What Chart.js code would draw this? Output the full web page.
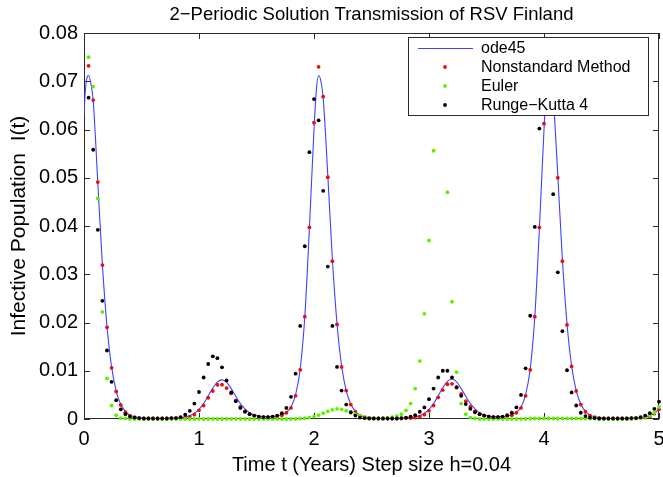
<!DOCTYPE html>
<html>
<head>
<meta charset="utf-8">
<script src="https://cdn.jsdelivr.net/npm/chart.js@4.4.1/dist/chart.umd.min.js"></script>
<style>
  html, body { margin: 0; padding: 0; background: #fff; }
  #wrap { width: 663px; height: 477px; }
</style>
</head>
<body>
<div id="wrap"><canvas id="grafico" width="663" height="477"></canvas></div>
<script>
// passo h = 0.04, de t = 0.04 a t = 5
const passo = 0.04;
const tempos = Array.from({ length: 125 }, (_, i) => +((i + 1) * passo).toFixed(2));

const ticksX = [0, 1, 2, 3, 4, 5];
const ticksY = [0, 0.01, 0.02, 0.03, 0.04, 0.05, 0.06, 0.07, 0.08];

const titulo = '2\u2212Periodic Solution Transmission of RSV Finland';

// ode45 (linha azul), tempos proprios
const odeT = [0, 0.01, 0.02, 0.03, 0.04, 0.06, 0.08, 0.12, 0.16, 0.20, 0.24, 0.28, 0.32, 0.36, 0.40, 0.48, 0.56, 0.64, 0.72, 0.80,
  0.88, 0.92, 0.96, 1.00, 1.04, 1.08, 1.12, 1.16, 1.20, 1.24, 1.28, 1.32, 1.36, 1.40, 1.44, 1.48, 1.56, 1.64, 1.72, 1.76,
  1.80, 1.84, 1.88, 1.92, 1.96, 2.00, 2.02, 2.04, 2.06, 2.08, 2.12, 2.16, 2.20, 2.24, 2.28, 2.32, 2.36, 2.40, 2.48, 2.56,
  2.64, 2.72, 2.80, 2.88, 2.92, 2.96, 3.00, 3.04, 3.08, 3.12, 3.16, 3.20, 3.24, 3.28, 3.32, 3.36, 3.40, 3.44, 3.48, 3.56,
  3.64, 3.72, 3.76, 3.80, 3.84, 3.88, 3.92, 3.96, 4.00, 4.02, 4.04, 4.06, 4.08, 4.12, 4.16, 4.20, 4.24, 4.28, 4.32, 4.36,
  4.40, 4.48, 4.56, 4.64, 4.72, 4.80, 4.88, 4.92, 4.96, 5.00];
const odeI = [0.0630, 0.0675, 0.0700, 0.0710, 0.0712, 0.0695, 0.0660, 0.0490, 0.0320, 0.0192, 0.0108, 0.0058, 0.0030, 0.0016, 0.0008, 0.0003, 0.0001, 0.0001, 0.0001, 0.0002,
  0.0004, 0.0007, 0.0012, 0.0020, 0.0032, 0.0048, 0.0064, 0.0077, 0.0081, 0.0076, 0.0063, 0.0047, 0.0032, 0.0021, 0.0013, 0.0009, 0.0005, 0.0005, 0.0009, 0.0014,
  0.0025, 0.0050, 0.0104, 0.0212, 0.0395, 0.0600, 0.0680, 0.0712, 0.0700, 0.0665, 0.0505, 0.0330, 0.0198, 0.0110, 0.0059, 0.0031, 0.0016, 0.0008, 0.0003, 0.0001,
  0.0001, 0.0001, 0.0002, 0.0004, 0.0007, 0.0012, 0.0020, 0.0032, 0.0048, 0.0065, 0.0078, 0.0083, 0.0077, 0.0063, 0.0047, 0.0032, 0.0021, 0.0013, 0.0009, 0.0005,
  0.0005, 0.0009, 0.0014, 0.0025, 0.0050, 0.0104, 0.0212, 0.0395, 0.0600, 0.0680, 0.0712, 0.0700, 0.0665, 0.0505, 0.0330, 0.0198, 0.0110, 0.0059, 0.0031, 0.0016,
  0.0008, 0.0003, 0.0001, 0.0001, 0.0001, 0.0002, 0.0004, 0.0007, 0.0012, 0.0020];

// Metodo nao padrao (pontos vermelhos)
const naoPadrao = [0.0732, 0.0661, 0.0491, 0.0319, 0.0190, 0.0106, 0.0057, 0.0029, 0.0014,
  0.0007, 0.0004, 0.0002, 0.0001, 0.0001, 0.0001, 0.0001, 0.0001, 0.0001, 0.0001,
  0.0002, 0.0002, 0.0003, 0.0004, 0.0009, 0.0018, 0.0028, 0.0044, 0.0058, 0.0071,
  0.0071, 0.0064, 0.0053, 0.0038, 0.0025, 0.0016, 0.0010, 0.0007, 0.0005, 0.0004,
  0.0004, 0.0004, 0.0005, 0.0008, 0.0013, 0.0023, 0.0048, 0.0102, 0.0212, 0.0397,
  0.0614, 0.0730, 0.0668, 0.0501, 0.0327, 0.0196, 0.0108, 0.0059, 0.0030, 0.0015,
  0.0007, 0.0004, 0.0002, 0.0001, 0.0001, 0.0001, 0.0001, 0.0001, 0.0001, 0.0001,
  0.0002, 0.0002, 0.0003, 0.0005, 0.0009, 0.0017, 0.0028, 0.0045, 0.0060, 0.0072,
  0.0073, 0.0065, 0.0052, 0.0037, 0.0025, 0.0016, 0.0010, 0.0007, 0.0005, 0.0004,
  0.0004, 0.0004, 0.0005, 0.0008, 0.0013, 0.0023, 0.0048, 0.0102, 0.0212, 0.0397,
  0.0612, 0.0730, 0.0668, 0.0500, 0.0327, 0.0195, 0.0109, 0.0058, 0.0030, 0.0015,
  0.0007, 0.0004, 0.0002, 0.0001, 0.0001, 0.0001, 0.0001, 0.0001, 0.0001, 0.0001,
  0.0002, 0.0002, 0.0003, 0.0005, 0.0011, 0.0020];

// Euler (pontos verdes)
const euler = [0.0750, 0.0689, 0.0457, 0.0222, 0.0084, 0.0028, 0.0008, 0.0002, 0.0001,
  0, 0, 0, 0, 0, 0, 0, 0, 0, 0,
  0, 0, 0, 0, 0, 0, 0, 0, 0, 0,
  0, 0, 0, 0, 0, 0, 0, 0, 0, 0,
  0, 0, 0, 0, 0, 0, 0, 0.0001, 0.0002, 0.0003,
  0.0005, 0.0008, 0.0012, 0.0016, 0.0019, 0.0021, 0.0020, 0.0017, 0.0013, 0.0010,
  0.0007, 0.0004, 0.0003, 0.0002, 0.0001, 0.0001, 0.0002, 0.0004, 0.0006, 0.0010,
  0.0018, 0.0032, 0.0063, 0.0120, 0.0218, 0.0370, 0.0556, 0.0690, 0.0665, 0.0470,
  0.0243, 0.0097, 0.0032, 0.0010, 0.0003, 0.0001, 0, 0, 0, 0,
  0, 0, 0, 0, 0, 0, 0, 0.0001, 0.0001, 0.0001,
  0.0001, 0.0001, 0.0001, 0.0001, 0.0001, 0.0001, 0.0001, 0.0001, 0.0001, 0.0001,
  0.0001, 0.0001, 0, 0, 0, 0, 0, 0, 0, 0,
  0.0001, 0.0002, 0.0004, 0.0007, 0.0013, 0.0025];

// Runge-Kutta 4 (pontos pretos)
const rk4 = [0.0666, 0.0558, 0.0392, 0.0245, 0.0142, 0.0077, 0.0039, 0.0020, 0.0010,
  0.0005, 0.0003, 0.0002, 0.0001, 0.0001, 0.0001, 0.0001, 0.0001, 0.0001, 0.0002,
  0.0002, 0.0004, 0.0009, 0.0017, 0.0032, 0.0056, 0.0086, 0.0114, 0.0130, 0.0126,
  0.0107, 0.0080, 0.0055, 0.0037, 0.0023, 0.0015, 0.0010, 0.0007, 0.0005, 0.0004,
  0.0004, 0.0005, 0.0007, 0.0012, 0.0023, 0.0046, 0.0094, 0.0193, 0.0358, 0.0553,
  0.0663, 0.0619, 0.0473, 0.0316, 0.0193, 0.0108, 0.0059, 0.0030, 0.0014, 0.0007,
  0.0003, 0.0002, 0.0001, 0.0001, 0.0001, 0.0001, 0.0001, 0.0001, 0.0001, 0.0002,
  0.0003, 0.0005, 0.0008, 0.0015, 0.0024, 0.0041, 0.0063, 0.0086, 0.0100, 0.0100,
  0.0086, 0.0066, 0.0048, 0.0031, 0.0021, 0.0014, 0.0010, 0.0007, 0.0005, 0.0004,
  0.0004, 0.0005, 0.0008, 0.0013, 0.0024, 0.0050, 0.0105, 0.0214, 0.0398, 0.0602,
  0.0690, 0.0636, 0.0466, 0.0304, 0.0182, 0.0101, 0.0055, 0.0028, 0.0013, 0.0006,
  0.0003, 0.0002, 0.0001, 0.0001, 0.0001, 0.0001, 0.0001, 0.0001, 0.0001, 0.0002,
  0.0002, 0.0004, 0.0007, 0.0012, 0.0021, 0.0036];

const rotulos = ['ode45', 'Nonstandard Method', 'Euler', 'Runge\u2212Kutta 4'];
const cores = ['#4242ff', '#e8100c', '#5ef000', '#000000'];

function pares(xs, ys) {
  return xs.map((x, i) => ({ x: x, y: ys[i] }));
}

const fonte = '"Liberation Sans", Arial, Helvetica, sans-serif';

// caixa do eixo com marcas para dentro (desenhada por baixo dos pontos, como no MATLAB)
const moldura = {
  id: 'moldura',
  beforeDatasetsDraw(chart) {
    const { ctx, chartArea: a, scales } = chart;
    ctx.save();
    ctx.strokeStyle = '#2a2a2a';
    ctx.lineWidth = 1;
    ctx.strokeRect(a.left + 0.5, a.top + 0.5, a.right - a.left - 1, a.bottom - a.top - 1);
    ctx.beginPath();
    scales.x.ticks.forEach(t => {
      const px = Math.round(scales.x.getPixelForValue(t.value)) + 0.5;
      ctx.moveTo(px, a.bottom); ctx.lineTo(px, a.bottom - 6);
      ctx.moveTo(px, a.top); ctx.lineTo(px, a.top + 6);
    });
    scales.y.ticks.forEach(t => {
      const py = Math.round(scales.y.getPixelForValue(t.value)) + 0.5;
      ctx.moveTo(a.left, py); ctx.lineTo(a.left + 6, py);
      ctx.moveTo(a.right, py); ctx.lineTo(a.right - 6, py);
    });
    ctx.stroke();
    ctx.restore();
  },
  // titulo centrado sobre a area do grafico
  afterDraw(chart) {
    const { ctx, chartArea: a } = chart;
    ctx.save();
    ctx.font = '18.5px ' + fonte;
    ctx.fillStyle = '#000';
    ctx.textAlign = 'center';
    ctx.textBaseline = 'middle';
    ctx.fillText(titulo, (a.left + a.right) / 2, 15);
    ctx.restore();
  }
};

// legenda dentro da area do grafico, com fundo branco por cima dos dados
const legendaInterna = {
  id: 'legendaInterna',
  afterDatasetsDraw(chart) {
    const { ctx, chartArea: a } = chart;
    const w = 241, h = 79;
    const x0 = a.right - 10 - w, y0 = a.top + 4;
    ctx.save();
    ctx.fillStyle = '#fff';
    ctx.fillRect(x0, y0, w, h);
    ctx.strokeStyle = '#2a2a2a';
    ctx.lineWidth = 1;
    ctx.strokeRect(x0 + 0.5, y0 + 0.5, w - 1, h - 1);
    ctx.font = '16px ' + fonte;
    ctx.textBaseline = 'middle';
    rotulos.forEach((r, i) => {
      const yy = y0 + 11 + i * 19;
      if (i === 0) {
        ctx.strokeStyle = cores[0];
        ctx.beginPath();
        ctx.moveTo(x0 + 10, yy + 0.5);
        ctx.lineTo(x0 + 65, yy + 0.5);
        ctx.stroke();
      } else {
        ctx.fillStyle = cores[i];
        ctx.beginPath();
        ctx.arc(x0 + 37, yy, 1.9, 0, Math.PI * 2);
        ctx.fill();
      }
      ctx.fillStyle = '#000';
      ctx.fillText(r, x0 + 73, yy + 1);
    });
    ctx.restore();
  }
};

function pontos(rotulo, ys, cor, ordem) {
  return {
    label: rotulo,
    data: pares(tempos, ys),
    showLine: false,
    pointRadius: 1.9,
    pointBorderWidth: 0,
    pointBackgroundColor: cor,
    pointBorderColor: cor,
    backgroundColor: cor,
    clip: 4,
    order: ordem
  };
}

const ctx = document.getElementById('grafico').getContext('2d');
new Chart(ctx, {
  type: 'scatter',
  data: {
    datasets: [
      {
        label: rotulos[0],
        data: pares(odeT, odeI),
        showLine: true,
        borderColor: cores[0],
        borderWidth: 1.1,
        pointRadius: 0,
        cubicInterpolationMode: 'monotone',
        order: 4
      },
      pontos(rotulos[1], naoPadrao, cores[1], 3),
      pontos(rotulos[2], euler, cores[2], 2),
      pontos(rotulos[3], rk4, cores[3], 1)
    ]
  },
  options: {
    responsive: false,
    animation: false,
    layout: { padding: { left: 0, right: 2, top: 33, bottom: 0 } },
    plugins: {
      legend: { display: false },
      tooltip: { enabled: false }
    },
    scales: {
      x: {
        type: 'linear',
        min: 0,
        max: 5,
        afterBuildTicks: s => { s.ticks = ticksX.map(v => ({ value: v })); },
        afterFit: s => { s.height = 58; s.paddingLeft = 0; s.paddingRight = 0; },
        grid: { display: false, drawTicks: false },
        border: { display: false },
        ticks: {
          color: '#000',
          padding: 8,
          maxRotation: 0,
          font: { family: fonte, size: 20 },
          callback: v => String(v)
        },
        title: {
          display: true,
          text: 'Time t (Years) Step size h=0.04',
          color: '#000',
          font: { family: fonte, size: 20 },
          padding: { top: 0, bottom: 0 }
        }
      },
      y: {
        min: 0,
        max: 0.08,
        afterBuildTicks: s => { s.ticks = ticksY.map(v => ({ value: v })); },
        afterFit: s => { s.width = 84; s.paddingTop = 0; s.paddingBottom = 0; },
        grid: { display: false, drawTicks: false },
        border: { display: false },
        ticks: {
          color: '#000',
          padding: 6,
          font: { family: fonte, size: 20 },
          callback: v => (v === 0 ? '0' : v.toFixed(2))
        },
        title: {
          display: true,
          text: 'Infective Population  I(t)',
          color: '#000',
          font: { family: fonte, size: 21 },
          padding: { top: 7, bottom: 0 }
        }
      }
    }
  },
  plugins: [moldura, legendaInterna]
});
</script>
</body>
</html>
